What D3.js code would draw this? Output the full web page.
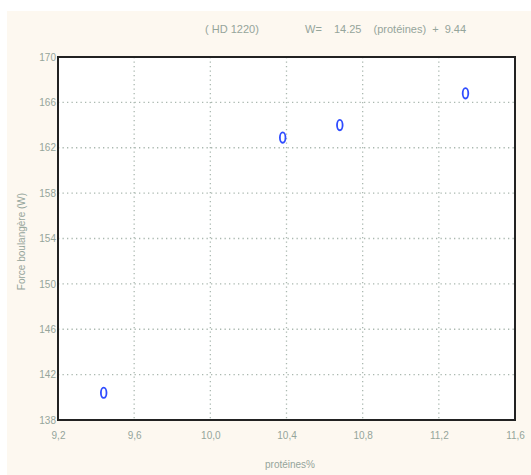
<!DOCTYPE html>
<html>
<head>
<meta charset="utf-8">
<script src="https://cdn.jsdelivr.net/npm/d3@7"></script>
<style>
  body { margin: 0; background: #fff; }
  text { font-family: "Liberation Sans", Arial, sans-serif; fill: #95a59b; }
</style>
</head>
<body>
<script>
// data
let proteines = [9.44, 10.38, 10.68, 11.34];
let forceW = [140.4, 162.9, 164.0, 166.8];
let xTicks = [9.2, 9.6, 10.0, 10.4, 10.8, 11.2, 11.6];
let yTicks = [138, 142, 146, 150, 154, 158, 162, 166, 170];

let width = 531, height = 475;
let marginLeft = 58, marginRight = 16, marginTop = 57, marginBottom = 55;

let svg = d3.select("body").append("svg")
  .attr("width", width)
  .attr("height", height);

// cream page
svg.append("rect")
  .attr("x", 7).attr("y", 11)
  .attr("width", width - 7).attr("height", height - 11)
  .attr("fill", "#fdf8f0");

let xScale = d3.scaleLinear()
  .domain([9.2, 11.6])
  .range([marginLeft, width - marginRight]);

let yScale = d3.scaleLinear()
  .domain([138, 170])
  .range([height - marginBottom, marginTop]);

// plot area
svg.append("rect")
  .attr("x", xScale(9.2)).attr("y", yScale(170))
  .attr("width", xScale(11.6) - xScale(9.2))
  .attr("height", yScale(138) - yScale(170))
  .attr("fill", "#fff");

// dotted grid
let grid = svg.append("g")
  .attr("stroke", "#aab8b0")
  .attr("stroke-width", 1.3)
  .attr("stroke-dasharray", "1.3,3.2");

grid.selectAll("line.gx")
  .data(xTicks.slice(1, -1))
  .enter().append("line")
  .attr("x1", d => xScale(d)).attr("x2", d => xScale(d))
  .attr("y1", yScale(170)).attr("y2", yScale(138));

grid.selectAll("line.gy")
  .data(yTicks.slice(1, -1))
  .enter().append("line")
  .attr("x1", xScale(9.2)).attr("x2", xScale(11.6))
  .attr("y1", d => yScale(d)).attr("y2", d => yScale(d));

// axes
let fmt = d => d3.format(".1f")(d).replace(".", ",");

let xAxis = d3.axisBottom(xScale)
  .tickValues(xTicks)
  .tickFormat(fmt)
  .tickSize(0)
  .tickPadding(12);

let yAxis = d3.axisLeft(yScale)
  .tickValues(yTicks)
  .tickFormat(d3.format("d"))
  .tickSize(0)
  .tickPadding(2);

let gx = svg.append("g")
  .attr("transform", "translate(0," + yScale(138) + ")")
  .call(xAxis);
let gy = svg.append("g")
  .attr("transform", "translate(" + xScale(9.2) + ",0)")
  .call(yAxis);

[gx, gy].forEach(g => {
  g.select(".domain").remove();
  g.selectAll("text")
    .style("font-size", "10px")
    .attr("fill", "#95a59b");
});

// frame
svg.append("rect")
  .attr("x", xScale(9.2)).attr("y", yScale(170))
  .attr("width", xScale(11.6) - xScale(9.2))
  .attr("height", yScale(138) - yScale(170))
  .attr("fill", "none")
  .attr("stroke", "#222")
  .attr("stroke-width", 2);

// points drawn as "0" markers
svg.append("g")
  .selectAll("ellipse")
  .data(proteines.map((p, i) => [p, forceW[i]]))
  .enter().append("ellipse")
  .attr("cx", d => xScale(d[0]))
  .attr("cy", d => yScale(d[1]))
  .attr("rx", 2.8)
  .attr("ry", 5.2)
  .attr("fill", "none")
  .attr("stroke", "#2f4cff")
  .attr("stroke-width", 1.8);

// titles
svg.append("text")
  .attr("x", 232).attr("y", 33)
  .attr("text-anchor", "middle")
  .style("font-size", "11px")
  .text("( HD 1220)");

svg.append("text")
  .attr("x", 305).attr("y", 33)
  .style("font-size", "11px")
  .style("word-spacing", "3px")
  .attr("xml:space", "preserve")
  .text("W=  14.25  (protéines) + 9.44");

svg.append("text")
  .attr("x", 290).attr("y", 468)
  .attr("text-anchor", "middle")
  .style("font-size", "10px")
  .text("protéines%");

svg.append("text")
  .attr("transform", "translate(25," + ((yScale(138) + yScale(170)) / 2 + 3) + ") rotate(-90)")
  .attr("text-anchor", "middle")
  .style("font-size", "10px")
  .text("Force boulangère (W)");
</script>
</body>
</html>
